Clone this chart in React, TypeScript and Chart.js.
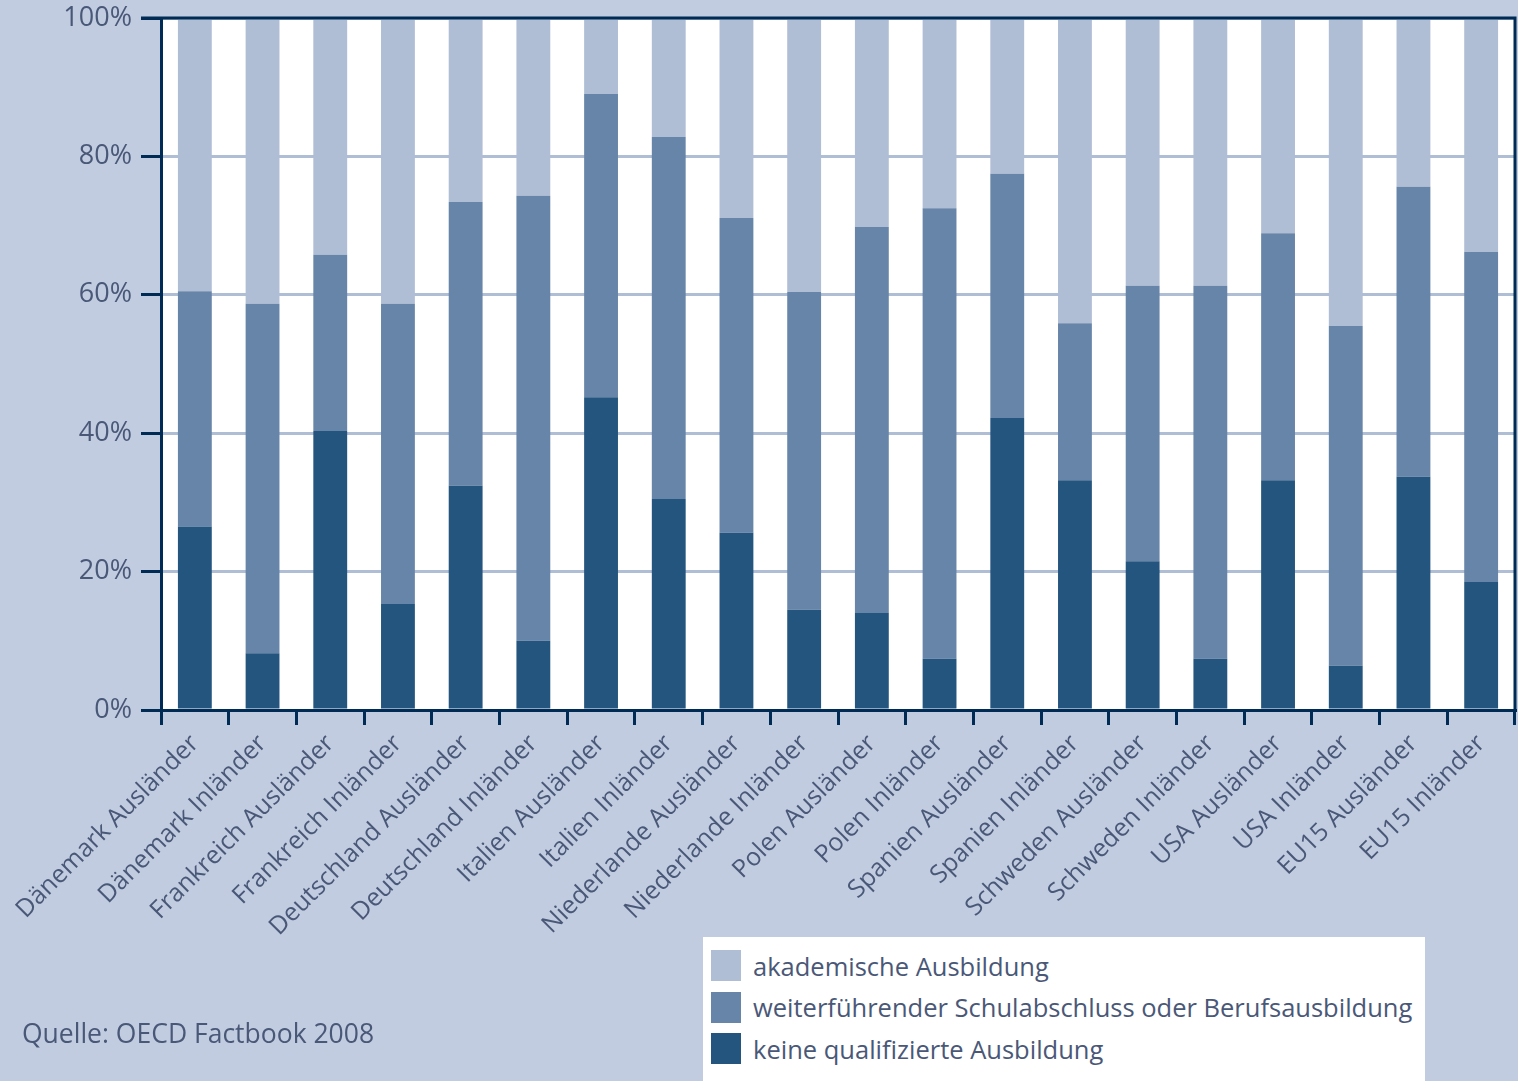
import React, { useEffect, useRef } from "react";
import { Chart, registerables } from "chart.js";

Chart.register(...registerables);

const categories = [
  "Dänemark Ausländer", "Dänemark Inländer", "Frankreich Ausländer", "Frankreich Inländer",
  "Deutschland Ausländer", "Deutschland Inländer", "Italien Ausländer", "Italien Inländer",
  "Niederlande Ausländer", "Niederlande Inländer", "Polen Ausländer", "Polen Inländer",
  "Spanien Ausländer", "Spanien Inländer", "Schweden Ausländer", "Schweden Inländer",
  "USA Ausländer", "USA Inländer", "EU15 Ausländer", "EU15 Inländer",
];

const keineAusbildung = [26.5, 8.2, 40.3, 15.3, 32.4, 10.0, 45.2, 30.5, 25.6, 14.5, 14.0, 7.4, 42.2, 33.2, 21.5, 7.4, 33.2, 6.4, 33.7, 18.5];
const weiterfuehrend = [34.0, 50.5, 25.5, 43.4, 41.0, 64.3, 43.8, 52.3, 45.5, 45.9, 55.8, 65.1, 35.3, 22.7, 39.8, 53.9, 35.7, 49.1, 41.9, 47.7];
const akademisch = [39.5, 41.3, 34.2, 41.3, 26.6, 25.7, 11.0, 17.2, 28.9, 39.6, 30.2, 27.5, 22.5, 44.1, 38.7, 38.7, 31.1, 44.5, 24.4, 33.8];

const seriesLabels = [
  "akademische Ausbildung",
  "weiterführender Schulabschluss oder Berufsausbildung",
  "keine qualifizierte Ausbildung",
];

const COLORS = { light: "#afbdd5", mid: "#6785a8", dark: "#24557e", navy: "#002b55", text: "#4a5878", bg: "#c1cce0" };
const FONT = "'Open Sans', 'DejaVu Sans', sans-serif";

const framePlugin = {
  id: "frame",
  beforeDraw(chart: any) {
    const { ctx, chartArea: a } = chart;
    ctx.save();
    ctx.fillStyle = "#ffffff";
    ctx.fillRect(a.left, a.top, a.right - a.left, a.bottom - a.top);
    ctx.restore();
  },
  afterDraw(chart: any) {
    const { ctx, chartArea: a } = chart;
    ctx.save();
    ctx.strokeStyle = COLORS.navy;
    ctx.lineWidth = 3;
    ctx.beginPath();
    ctx.moveTo(a.left - 20, a.top);
    ctx.lineTo(a.right, a.top);
    ctx.lineTo(a.right, a.bottom);
    ctx.stroke();
    ctx.restore();
  },
};

export default function App() {
  const ref = useRef<HTMLCanvasElement>(null);

  useEffect(() => {
    if (!ref.current) return;
    const chart = new Chart(ref.current, {
      type: "bar",
      data: {
        labels: categories,
        datasets: [
          { label: seriesLabels[2], data: keineAusbildung, backgroundColor: COLORS.dark },
          { label: seriesLabels[1], data: weiterfuehrend, backgroundColor: COLORS.mid },
          { label: seriesLabels[0], data: akademisch, backgroundColor: COLORS.light },
        ],
      },
      options: {
        animation: false,
        responsive: false,
        maintainAspectRatio: false,
        datasets: { bar: { barPercentage: 0.5, categoryPercentage: 1.0 } },
        layout: { padding: { top: 18, left: 0, right: 3, bottom: 121 } },
        plugins: { legend: { display: false }, tooltip: { enabled: false } },
        scales: {
          x: {
            stacked: true,
            afterFit: (s: any) => { s.height = 250; s.paddingLeft = 0; s.paddingRight = 0; },
            grid: { drawOnChartArea: false, drawTicks: true, tickLength: 15, tickColor: COLORS.navy, lineWidth: 3, offset: true },
            border: { color: COLORS.navy, width: 3 },
            ticks: { autoSkip: false, minRotation: 45, maxRotation: 45, padding: 4, color: COLORS.text, font: { family: FONT, size: 25 } },
          },
          y: {
            stacked: true,
            min: 0,
            max: 100,
            afterFit: (s: any) => { s.width = 161; s.paddingTop = 0; s.paddingBottom = 0; },
            grid: { color: COLORS.light, lineWidth: 3, tickColor: COLORS.navy, tickLength: 20 },
            border: { color: COLORS.navy, width: 3 },
            ticks: { stepSize: 20, padding: 9, color: COLORS.text, font: { family: FONT, size: 27 }, callback: (v: any) => v + "%" },
          },
        },
      },
      plugins: [framePlugin],
    });
    return () => chart.destroy();
  }, []);

  const legendItems = [
    { label: seriesLabels[0], color: COLORS.light },
    { label: seriesLabels[1], color: COLORS.mid },
    { label: seriesLabels[2], color: COLORS.dark },
  ];

  return (
    <div style={{ position: "fixed", left: 0, top: 0, width: 1518, height: 1081, background: COLORS.bg, fontFamily: FONT, overflow: "hidden" }}>
      <canvas ref={ref} width={1518} height={1081} style={{ position: "absolute", left: 0, top: 0, width: 1518, height: 1081 }} />
      <div style={{ position: "absolute", left: 22, top: 1015, fontSize: 26.5, color: COLORS.text, whiteSpace: "nowrap" }}>
        Quelle: OECD Factbook 2008
      </div>
      <div style={{ position: "absolute", left: 703, top: 937, width: 722, height: 144, background: "#ffffff" }}>
        {legendItems.map((it, i) => (
          <div key={i} style={{ position: "absolute", left: 8, top: 13 + i * 41.5, height: 31, display: "flex", alignItems: "center", whiteSpace: "nowrap" }}>
            <div style={{ width: 30, height: 31, background: it.color, marginRight: 12 }} />
            <span style={{ fontSize: 25.5, color: COLORS.text }}>{it.label}</span>
          </div>
        ))}
      </div>
    </div>
  );
}
